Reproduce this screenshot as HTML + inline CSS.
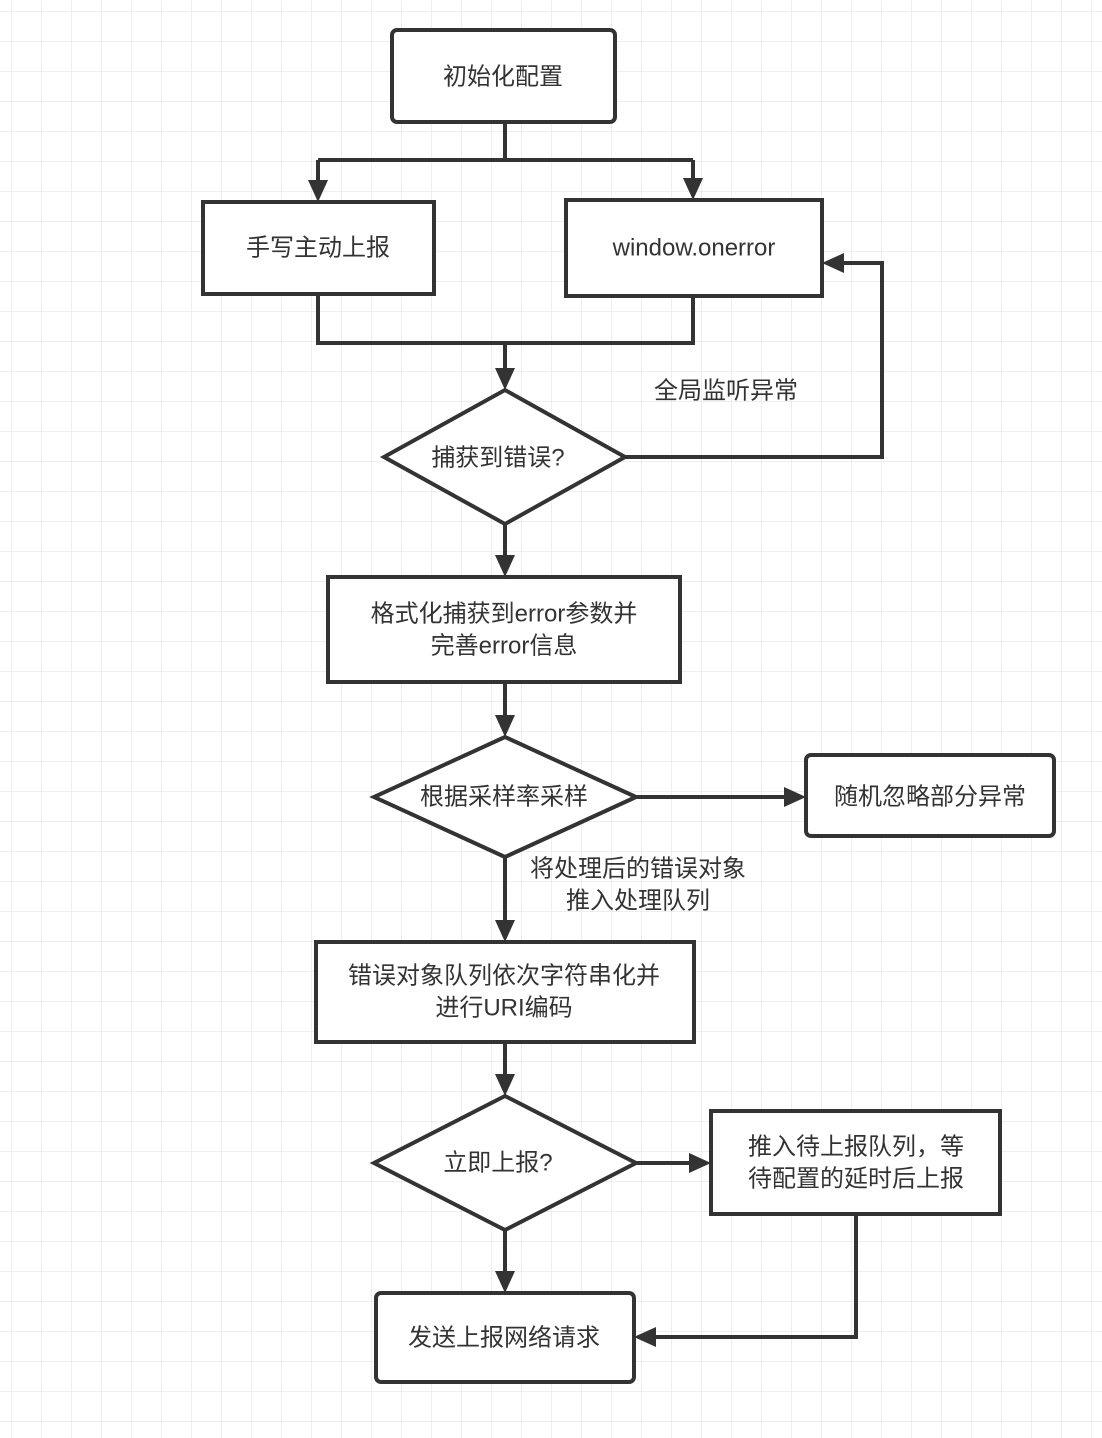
<!DOCTYPE html>
<html><head><meta charset="utf-8"><style>
html,body{margin:0;padding:0;background:#fff}
svg{display:block}
text{font-family:"Liberation Sans","Noto Sans CJK SC",sans-serif;font-size:24px;fill:#333;text-anchor:middle;dominant-baseline:central}
</style></head><body>
<svg width="1102" height="1438" viewBox="0 0 1102 1438" xmlns="http://www.w3.org/2000/svg">
<defs>
<pattern id="g" x="11" y="11" width="30" height="30" patternUnits="userSpaceOnUse">
<path d="M0 0H30M0 0V30" stroke="#e8e8e8" stroke-width="1.5" fill="none"/>
</pattern>
<marker id="a" markerWidth="10" markerHeight="10" refX="9" refY="5" orient="auto" markerUnits="userSpaceOnUse" viewBox="0 0 10 10">
</marker>
</defs>
<rect width="1102" height="1438" fill="url(#g)"/>
<g stroke="#333" stroke-width="4" fill="none">
<!-- connectors -->
<path d="M505 122V160M318 160H693M318 160V188M693 160V186"/>
<path d="M318 294V343H693V296M505 343V376"/>
<path d="M625 457H882V263H836"/>
<path d="M505 524V563M505 682V723M636 797H791M505 857V928M505 1042V1082M636 1163H696M505 1230V1278M856 1214V1337H648"/>
<!-- boxes -->
<rect x="392" y="30" width="223" height="92" rx="5" fill="#fff"/>
<rect x="203" y="202" width="231" height="92" fill="#fff"/>
<rect x="566" y="200" width="256" height="96" fill="#fff"/>
<polygon points="505,390 625,457 505,524 384,457" fill="#fff"/>
<rect x="328" y="577" width="352" height="105" fill="#fff"/>
<polygon points="505,737 636,797 505,857 374,797" fill="#fff"/>
<rect x="806" y="755" width="248" height="81" rx="5" fill="#fff"/>
<rect x="316" y="942" width="378" height="100" fill="#fff"/>
<polygon points="505,1096 636,1163 505,1230 374,1163" fill="#fff"/>
<rect x="711" y="1111" width="289" height="103" fill="#fff"/>
<rect x="376" y="1293" width="258" height="89" rx="5" fill="#fff"/>
</g>
<g fill="#333">
<polygon points="308,180 328,180 318,202"/>
<polygon points="683,178 703,178 693,200"/>
<polygon points="495,368 515,368 505,390"/>
<polygon points="844,253 844,273 822,263"/>
<polygon points="495,555 515,555 505,577"/>
<polygon points="495,715 515,715 505,737"/>
<polygon points="784,787 784,807 806,797"/>
<polygon points="495,920 515,920 505,942"/>
<polygon points="495,1074 515,1074 505,1096"/>
<polygon points="689,1153 689,1173 711,1163"/>
<polygon points="495,1271 515,1271 505,1293"/>
<polygon points="656,1327 656,1347 634,1337"/>
</g>
<text x="503" y="77">初始化配置</text>
<text x="318" y="248">手写主动上报</text>
<text x="694" y="248">window.onerror</text>
<text x="726" y="391">全局监听异常</text>
<text x="498" y="458">捕获到错误?</text>
<text x="504" y="614">格式化捕获到error参数并</text>
<text x="504" y="646">完善error信息</text>
<text x="504" y="797">根据采样率采样</text>
<text x="930" y="797">随机忽略部分异常</text>
<text x="638" y="869">将处理后的错误对象</text>
<text x="638" y="901">推入处理队列</text>
<text x="504" y="976">错误对象队列依次字符串化并</text>
<text x="504" y="1008">进行URI编码</text>
<text x="498" y="1163">立即上报?</text>
<text x="856" y="1147">推入待上报队列，等</text>
<text x="856" y="1179">待配置的延时后上报</text>
<text x="504" y="1338">发送上报网络请求</text>
</svg>
</body></html>
